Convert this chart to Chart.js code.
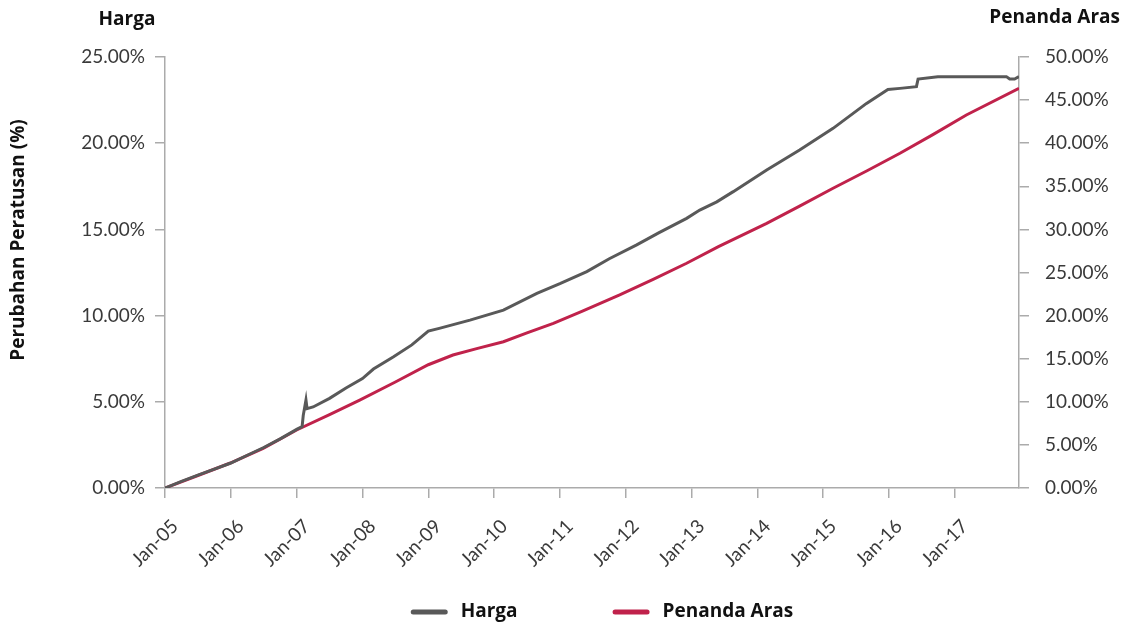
<!DOCTYPE html>
<html>
<head>
<meta charset="utf-8">
<script src="https://cdn.jsdelivr.net/npm/chart.js@4.4.1/dist/chart.umd.min.js"></script>
<style>
  html, body { margin: 0; padding: 0; background: #ffffff; }
  #wrap { width: 1125px; height: 628px; position: relative; }
</style>
</head>
<body>
<div id="wrap"><canvas id="c" width="1125" height="628"></canvas></div>
<script>
// ---- Data (months since Jan-05) ----
const xTickMonths = [0, 12, 24, 36, 48, 60, 72, 84, 96, 108, 120, 132, 144];
const xTickLabels = ["Jan-05", "Jan-06", "Jan-07", "Jan-08", "Jan-09", "Jan-10", "Jan-11", "Jan-12", "Jan-13", "Jan-14", "Jan-15", "Jan-16", "Jan-17"];
const xMaxMonth = 155.7;

const hargaMonths = [0, 3, 6, 9, 12, 15, 18, 21, 24, 25, 25.2, 25.7, 25.9, 27, 30, 33, 36, 38, 41.6, 45, 48, 50, 55.6, 61.7, 67.8, 72, 76.9, 81, 86, 90, 95.1, 97.5, 100.6, 103.6, 109.7, 115.7, 121.8, 127.9, 131.8, 134, 137, 137.3, 140.9, 153.4, 154, 154.9, 155.7];
const hargaValues = [0, 0.38, 0.75, 1.1, 1.45, 1.9, 2.35, 2.85, 3.4, 3.56, 4.2, 5.1, 4.6, 4.7, 5.2, 5.8, 6.35, 6.9, 7.6, 8.3, 9.1, 9.26, 9.74, 10.32, 11.29, 11.85, 12.55, 13.3, 14.1, 14.8, 15.64, 16.12, 16.6, 17.19, 18.45, 19.6, 20.86, 22.31, 23.12, 23.18, 23.28, 23.72, 23.86, 23.86, 23.72, 23.72, 23.86];

const penandaMonths = [0, 6, 11.8, 17.9, 24, 30, 35.5, 42, 48, 52.5, 57, 61.7, 66, 70.8, 76, 82.9, 89, 95.1, 100.9, 109.7, 115.7, 121.8, 128, 134, 140, 146.1, 155.7];
const penandaValues = [0, 1.45, 2.87, 4.6, 6.73, 8.5, 10.2, 12.3, 14.3, 15.43, 16.2, 16.97, 18.0, 19.1, 20.5, 22.4, 24.2, 26.07, 28.0, 30.7, 32.7, 34.77, 36.8, 38.83, 41.0, 43.27, 46.37];

const seriesNames = ["Harga", "Penanda Aras"];
const leftAxisTitle = "Perubahan Peratusan (%)";

const GRAY = "#595959";
const RED = "#C0224B";
const AXIS = "#ABABAB";
const TICK_TXT = "#3A3A3A";
const FONT = "Lato, 'Open Sans', sans-serif";
const BOLD_FONT = "'Open Sans', Lato, sans-serif";

const toPoints = (xs, ys) => xs.map((x, i) => ({ x: x, y: ys[i] }));

const extraText = {
  id: 'extraText',
  afterDraw(chart) {
    const ctx = chart.ctx;
    const a = chart.chartArea;
    ctx.save();
    ctx.fillStyle = "#111111";
    ctx.font = "bold 19px " + BOLD_FONT;
    ctx.textBaseline = "middle";
    // top axis captions
    ctx.textAlign = "center";
    ctx.fillText(seriesNames[0], a.left - 38, 20);
    ctx.textAlign = "right";
    ctx.fillText(seriesNames[1], 1120, 18);
    // left axis title
    ctx.save();
    ctx.translate(19, 240);
    ctx.rotate(-Math.PI / 2);
    ctx.textAlign = "center";
    ctx.fillText(leftAxisTitle, 0, 0);
    ctx.restore();
    // legend
    const colors = [GRAY, RED];
    const lineW = 37, gapT = 13, gapItem = 95;
    const w = seriesNames.map(s => ctx.measureText(s).width);
    const total = lineW + gapT + w[0] + gapItem + lineW + gapT + w[1];
    let x = (a.left + a.right) / 2 + 10 - total / 2;
    const y = 612;
    ctx.textAlign = "left";
    ctx.lineCap = "round";
    ctx.lineWidth = 5;
    for (let i = 0; i < 2; i++) {
      ctx.strokeStyle = colors[i];
      ctx.beginPath();
      ctx.moveTo(x + 2.5, y);
      ctx.lineTo(x + lineW - 2.5, y);
      ctx.stroke();
      x += lineW + gapT;
      ctx.fillText(seriesNames[i], x, y);
      x += w[i] + gapItem;
    }
    ctx.restore();
  }
};

new Chart(document.getElementById('c'), {
  type: 'line',
  data: {
    datasets: [
      {
        label: seriesNames[0],
        data: toPoints(hargaMonths, hargaValues),
        yAxisID: 'yL',
        borderColor: GRAY,
        borderWidth: 3,
        pointRadius: 0,
        tension: 0,
        fill: false
      },
      {
        label: seriesNames[1],
        data: toPoints(penandaMonths, penandaValues),
        yAxisID: 'yR',
        borderColor: RED,
        borderWidth: 3,
        pointRadius: 0,
        tension: 0,
        fill: false
      }
    ]
  },
  options: {
    responsive: false,
    animation: false,
    layout: { padding: { top: 57, left: 0, right: 0, bottom: 0 } },
    plugins: {
      legend: { display: false },
      tooltip: { enabled: false },
      title: { display: false }
    },
    scales: {
      x: {
        type: 'linear',
        min: 0,
        max: xMaxMonth,
        afterBuildTicks(scale) { scale.ticks = xTickMonths.map(v => ({ value: v })); },
        afterFit(scale) { scale.height = 140; },
        ticks: {
          autoSkip: false,
          maxRotation: 45,
          minRotation: 45,
          padding: 17,
          labelOffset: 10,
          color: TICK_TXT,
          font: { family: FONT, size: 19 },
          callback: (v, i) => xTickLabels[i]
        },
        grid: { drawOnChartArea: false, drawTicks: true, tickLength: 10, color: AXIS, lineWidth: 1.5 },
        border: { display: true, color: AXIS, width: 1.5 }
      },
      yL: {
        type: 'linear',
        position: 'left',
        min: 0,
        max: 25,
        afterFit(scale) { scale.width = 165; },
        ticks: {
          stepSize: 5,
          padding: 10,
          color: TICK_TXT,
          font: { family: FONT, size: 19 },
          callback: v => v.toFixed(2) + '%'
        },
        grid: { drawOnChartArea: false, drawTicks: true, tickLength: 10, color: AXIS, lineWidth: 1.5 },
        border: { display: true, color: AXIS, width: 1.5 }
      },
      yR: {
        type: 'linear',
        position: 'right',
        min: 0,
        max: 50,
        afterFit(scale) { scale.width = 106; },
        ticks: {
          stepSize: 5,
          padding: 16,
          color: TICK_TXT,
          font: { family: FONT, size: 19 },
          callback: v => v.toFixed(2) + '%'
        },
        grid: { drawOnChartArea: false, drawTicks: true, tickLength: 10, color: AXIS, lineWidth: 1.5 },
        border: { display: true, color: AXIS, width: 1.5 }
      }
    }
  },
  plugins: [extraText]
});
</script>
</body>
</html>
